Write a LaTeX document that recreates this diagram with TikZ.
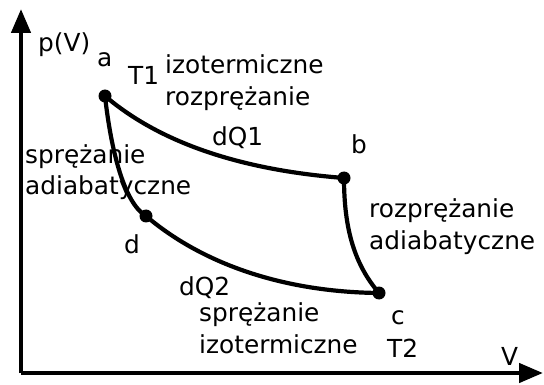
\documentclass[tikz,border=0pt]{standalone}
\usepackage{fontspec}
\setmainfont{DejaVu Sans}
\usetikzlibrary{arrows.meta}
\begin{document}
\begin{tikzpicture}[x=1pt,y=-1pt,
  lbl/.style={anchor=base west,inner sep=0pt,font=\fontsize{24.8}{32}\selectfont},
  two/.style={lbl,align=left},
  pt/.style={circle,fill=black,inner sep=0pt,minimum size=13pt},
  axis/.style={line width=4.5pt,-{Triangle[length=24pt,width=19pt]}},
  proc/.style={line width=4.2pt}]
\useasboundingbox (0,0) rectangle (544,385);
\coordinate (o) at (21,373);
\coordinate (ytip) at (21,9);
\coordinate (xtip) at (543,373);
\draw[axis] (o) -- (ytip);
\draw[axis] (o) -- (xtip);
\node[pt] (a) at (105,96) {};
\node[pt] (b) at (344,178) {};
\node[pt] (c) at (379,293) {};
\node[pt] (d) at (146,216) {};
\draw[proc] (a.center) .. controls (145,130) and (215,168) .. (b.center);
\draw[proc] (b.center) .. controls (344,230) and (355,265) .. (c.center);
\draw[proc] (c.center) .. controls (280,292) and (200,262) .. (d.center);
\draw[proc] (d.center) .. controls (124,203) and (111,150) .. (a.center);
\node[lbl] (pv) at (38,52) {p(V)};
\node[lbl] (la) at (97,67) {a};
\node[lbl] (t1) at (128,85) {T1};
\node[two] (iso1) at (165,106) {izotermiczne\\rozprężanie};
\node[lbl] (dq1) at (212,146) {dQ1};
\node[lbl] (lb) at (351,154) {b};
\node[two] (ad1) at (25,195) {sprężanie\\adiabatyczne};
\node[lbl] (ld) at (124,253) {d};
\node[two] (ad2) at (369,249) {rozprężanie\\adiabatyczne};
\node[lbl] (dq2) at (179,295) {dQ2};
\node[two] (iso2) at (199,353) {sprężanie\\izotermiczne};
\node[lbl] (lc) at (391,324) {c};
\node[lbl] (t2) at (387,357) {T2};
\node[lbl] (lv) at (501,365) {V};
\end{tikzpicture}
\end{document}
